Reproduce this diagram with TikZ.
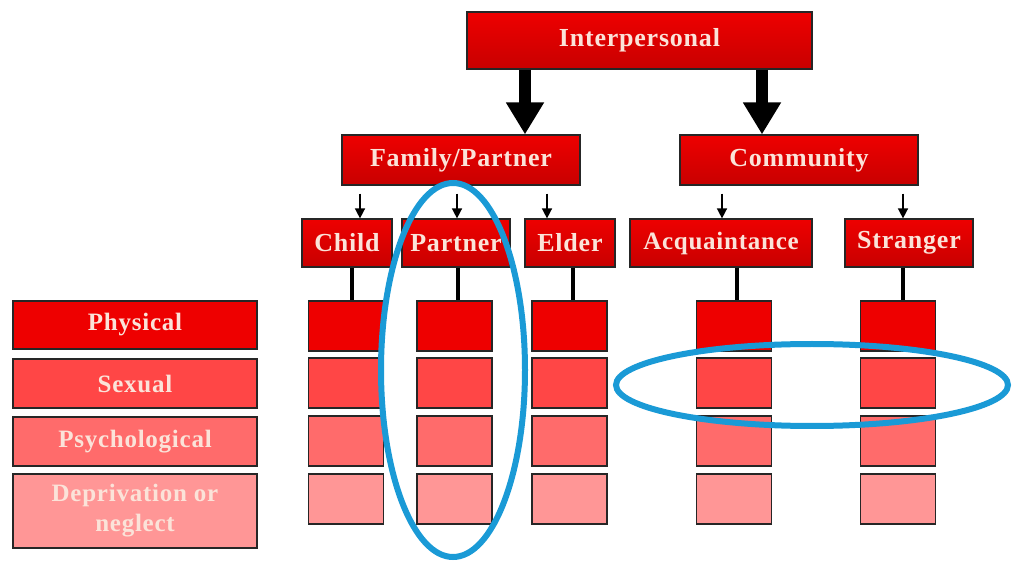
\documentclass[tikz,border=0pt]{standalone}
\usepackage{fontspec}
\setmainfont{Liberation Serif}[LetterSpace=3]
\usetikzlibrary{arrows.meta}
\definecolor{txt}{HTML}{FBE3D9}
\definecolor{ring}{HTML}{1A9AD6}
\definecolor{rA}{HTML}{EE0000}
\definecolor{rAd}{HTML}{C80000}
\definecolor{rB}{HTML}{FF4646}
\definecolor{rC}{HTML}{FF6B6B}
\definecolor{rD}{HTML}{FF9696}
\tikzset{
  box/.style={rectangle, draw=black!85, line width=1.2pt, inner sep=0pt,
    top color=rA, bottom color=rAd, text=txt,
    font=\fontsize{26}{28}\selectfont\bfseries, align=center},
  cell/.style={rectangle, draw=black!85, line width=1.2pt, inner sep=0pt,
    minimum width=75pt, minimum height=50pt},
  lab/.style={rectangle, draw=black!85, line width=1.2pt, inner sep=0pt,
    minimum width=244pt, text=txt, align=center,
    font=\fontsize{25}{30}\selectfont\bfseries},
  bigarrow/.style={line width=12pt, -{Triangle[width=36pt,length=32pt]}},
  smallarrow/.style={line width=1.5pt, -{Triangle[width=10pt,length=10pt]}},
  stem/.style={line width=4.5pt},
  loop/.style={draw=ring, line width=6pt}
}
\begin{document}
\begin{tikzpicture}[x=1pt,y=-1pt]
\useasboundingbox (0,0) rectangle (1013,561);
% top level
\node[box, minimum width=345pt, minimum height=57pt] (inter) at (639.5,40.5) {Interpersonal};
\node[box, minimum width=238pt, minimum height=50pt] (fam) at (461,160) {Family/Partner};
\node[box, minimum width=238pt, minimum height=50pt] (comm) at (799,160) {Community};
% second level
\node[box, minimum width=90pt, minimum height=48pt] (child) at (347,243) {Child};
\node[box, minimum width=108pt, minimum height=48pt] (partner) at (456,243) {Partner};
\node[box, minimum width=90pt, minimum height=48pt] (elder) at (570,243) {Elder};
\node[box, minimum width=182pt, minimum height=48pt, font=\fontsize{25}{28}\selectfont\bfseries] (acq) at (721,243) {Acquaintance};
\node[box, minimum width=128pt, minimum height=48pt] (str) at (909,243) {Stranger};
% left labels
\node[lab, minimum height=48pt, fill=rA] (phys) at (135,325) {Physical};
\node[lab, minimum height=49pt, fill=rB] (sex) at (135,383.5) {Sexual};
\node[lab, minimum height=49pt, fill=rC] (psy) at (135,441.5) {Psychological};
\node[lab, minimum height=74pt, fill=rD] (dep) at (135,511) {Deprivation or\\neglect};
% grid
\foreach \c/\x in {1/346,2/454.5,3/569.5,4/734,5/898}{
  \node[cell, fill=rA] (c\c r1) at (\x,326) {};
  \node[cell, fill=rB] (c\c r2) at (\x,383) {};
  \node[cell, fill=rC] (c\c r3) at (\x,441) {};
  \node[cell, fill=rD] (c\c r4) at (\x,499) {};
}
% big arrows
\draw[bigarrow] ([xshift=64pt]fam.north |- inter.south) -- ([xshift=64pt]fam.north);
\draw[bigarrow] ([xshift=-37pt]comm.north |- inter.south) -- ([xshift=-37pt]comm.north);
% small arrows
\draw[smallarrow] ([xshift=13pt,yshift=-8pt]child.north |- fam.south) -- ([xshift=13pt]child.north);
\draw[smallarrow] ([xshift=1pt,yshift=-8pt]partner.north |- fam.south) -- ([xshift=1pt]partner.north);
\draw[smallarrow] ([xshift=-23pt,yshift=-8pt]elder.north |- fam.south) -- ([xshift=-23pt]elder.north);
\draw[smallarrow] ([xshift=1pt,yshift=-8pt]acq.north |- comm.south) -- ([xshift=1pt]acq.north);
\draw[smallarrow] ([xshift=-6pt,yshift=-8pt]str.north |- comm.south) -- ([xshift=-6pt]str.north);
% stems
\draw[stem] ([xshift=6pt]c1r1.north |- child.south) -- ([xshift=6pt]c1r1.north);
\draw[stem] ([xshift=3.5pt]c2r1.north |- partner.south) -- ([xshift=3.5pt]c2r1.north);
\draw[stem] ([xshift=3.5pt]c3r1.north |- elder.south) -- ([xshift=3.5pt]c3r1.north);
\draw[stem] ([xshift=3pt]c4r1.north |- acq.south) -- ([xshift=3pt]c4r1.north);
\draw[stem] ([xshift=5pt]c5r1.north |- str.south) -- ([xshift=5pt]c5r1.north);
% highlight ellipses
\draw[loop] (453,370) ellipse [x radius=72pt, y radius=187pt];
\draw[loop] (812,385) ellipse [x radius=196pt, y radius=41pt];
\end{tikzpicture}
\end{document}
